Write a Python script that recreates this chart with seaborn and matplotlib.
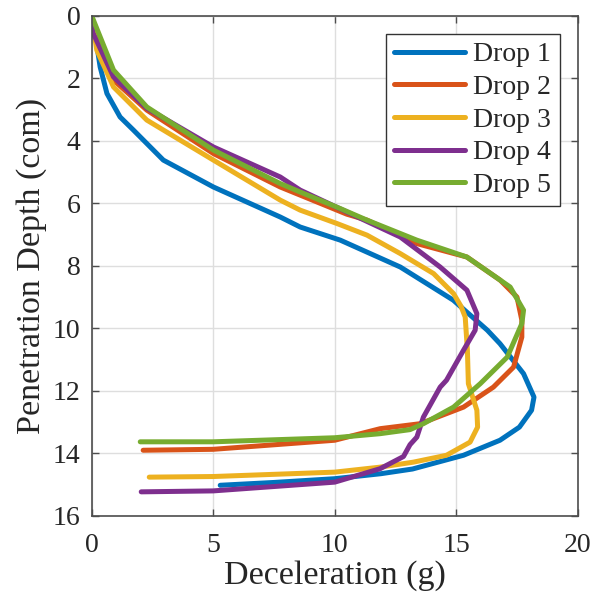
import numpy as np
import pandas as pd
import seaborn as sns
import matplotlib.pyplot as plt

# deceleration (g) vs penetration depth (cm)
drop1_x = [0, 0.14, 0.35, 0.63, 1.17, 1.72, 2.95, 5.01, 7.76, 8.58, 10.23, 12.7, 14.88, 16.28, 16.8, 17.77, 18.2, 18.1, 17.6, 16.8, 15.3, 13.2, 11.9, 10.0, 7.5, 5.29]
drop1_y = [0, 0.57, 1.64, 2.49, 3.24, 3.66, 4.62, 5.48, 6.44, 6.76, 7.18, 8.04, 9.1, 10.06, 10.49, 11.45, 12.2, 12.62, 13.16, 13.58, 14.06, 14.5, 14.65, 14.81, 14.93, 15.02]

drop2_x = [0, 0.3, 0.9, 2.27, 5.01, 7.76, 8.58, 10.5, 11.33, 13.38, 15.44, 16.81, 17.5, 17.7, 17.7, 17.36, 16.53, 15.3, 13.52, 11.87, 10.0, 5.0, 2.12]
drop2_y = [0, 0.95, 2.06, 3.02, 4.41, 5.48, 5.74, 6.35, 6.54, 7.29, 7.72, 8.46, 9.0, 9.74, 10.28, 11.24, 11.88, 12.52, 13.05, 13.21, 13.58, 13.87, 13.9]

drop3_x = [0, 0.21, 0.9, 2.27, 5.01, 7.76, 8.58, 10.1, 11.33, 12.7, 14.07, 14.89, 15.2, 15.37, 15.46, 15.5, 15.85, 15.88, 15.57, 14.6, 13.24, 11.87, 10.0, 5.0, 2.37]
drop3_y = [0, 1.1, 2.28, 3.34, 4.62, 5.9, 6.22, 6.65, 7.02, 7.61, 8.25, 8.89, 9.3, 9.64, 10.7, 11.77, 12.62, 13.16, 13.64, 14.06, 14.28, 14.44, 14.6, 14.74, 14.76]

drop4_x = [0, 0.06, 0.9, 2.27, 5.01, 7.76, 8.58, 10.64, 12.7, 14.34, 15.44, 15.85, 15.78, 15.3, 14.6, 14.34, 13.65, 13.38, 13.1, 12.83, 11.87, 10.0, 5.0, 2.04]
drop4_y = [0, 0.56, 1.96, 2.96, 4.2, 5.16, 5.58, 6.33, 7.08, 8.04, 8.78, 9.53, 10.06, 10.7, 11.66, 11.88, 12.84, 13.48, 13.72, 14.1, 14.49, 14.92, 15.2, 15.23]

drop5_x = [0, 0.9, 2.27, 5.01, 7.76, 8.58, 10.23, 11.33, 13.38, 15.44, 17.22, 17.77, 17.7, 17.1, 15.99, 14.89, 13.65, 13.1, 11.87, 10.0, 5.0, 2.0]
drop5_y = [0, 1.74, 2.92, 4.3, 5.37, 5.64, 6.17, 6.54, 7.18, 7.72, 8.68, 9.42, 9.85, 10.92, 11.77, 12.52, 13.05, 13.24, 13.37, 13.5, 13.63, 13.63]

drops = ["Drop 1", "Drop 2", "Drop 3", "Drop 4", "Drop 5"]
xs = [drop1_x, drop2_x, drop3_x, drop4_x, drop5_x]
ys = [drop1_y, drop2_y, drop3_y, drop4_y, drop5_y]
colors = ["#0072BD", "#D95319", "#EDB120", "#7E2F8E", "#77AC30"]

frames = []
for name, x, y in zip(drops, xs, ys):
    frames.append(pd.DataFrame({"decel": x, "depth": y, "drop": name}))
df = pd.concat(frames, ignore_index=True)

sns.set_style("ticks")
plt.rcParams["font.family"] = ["Liberation Serif", "DejaVu Serif"]

fig = plt.figure(figsize=(5.95, 6.02), dpi=100)
ax = fig.add_axes([0.154, 0.143, 0.817, 0.831])

sns.lineplot(data=df, x="decel", y="depth", hue="drop", palette=colors,
             sort=False, estimator=None, linewidth=3.6, ax=ax)

ax.set_xlim(0, 20)
ax.set_ylim(16, 0)
ax.set_xticks([0, 5, 10, 15, 20])
ax.set_yticks(np.arange(0, 17, 2))
ax.grid(True, color="#dedede", linewidth=1.0)
ax.set_axisbelow(True)
for s in ax.spines.values():
    s.set_color("#4d4d4d")
    s.set_linewidth(1.2)
ax.tick_params(direction="in", length=5, width=1.0, color="#4d4d4d",
               labelsize=20, top=True, right=True)
ax.tick_params(axis="x", pad=12)
ax.tick_params(axis="y", pad=8)
ax.set_xlabel("Deceleration (g)", fontsize=24.5, labelpad=2)
ax.set_ylabel("Penetration Depth (com)", fontsize=24.5, labelpad=4)

leg = ax.legend(loc="upper right", fontsize=20, frameon=True, fancybox=False,
                handlelength=2.55, handletextpad=0.3, labelspacing=0.26,
                borderpad=0.3, borderaxespad=0.65)
leg.get_frame().set_edgecolor("#333333")
leg.get_frame().set_linewidth(1.0)
leg.get_frame().set_alpha(1)
for line in leg.get_lines():
    line.set_linewidth(3.6)

fig.savefig("out.png", dpi=100)
